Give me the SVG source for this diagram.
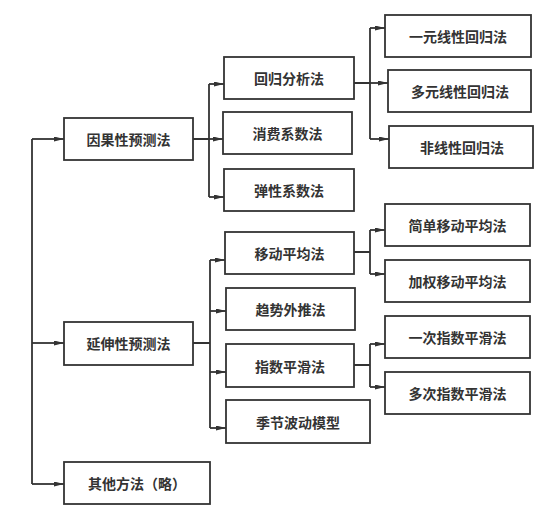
<svg xmlns="http://www.w3.org/2000/svg" width="554" height="509" viewBox="0 0 554 509">
<style>
.box{fill:#fff;stroke:#333;stroke-width:1.8}
.t{font-family:"Noto Sans CJK SC","Noto Sans CJK TC",sans-serif;font-size:14px;font-weight:bold;fill:#333;text-anchor:middle;dominant-baseline:central}
.c{fill:none;stroke:#333;stroke-width:1.8}
.a{fill:none;stroke:#333;stroke-width:1.8;marker-end:url(#ah)}
</style>
<defs>
<marker id="ah" markerUnits="userSpaceOnUse" markerWidth="10" markerHeight="5" viewBox="0 0 10 10" refX="10" refY="5" orient="auto" preserveAspectRatio="none">
<path d="M0,0 L10,5 L0,10 z" fill="#333"/>
</marker>
</defs>
<rect width="554" height="509" fill="#fff"/>
<g id="connectors">
<path class="c" d="M32,139 V484"/>
<path class="a" d="M32,139 H64"/>
<path class="a" d="M32,343 H64"/>
<path class="a" d="M32,484 H64"/>
<path class="c" d="M193,139 H209 M209,84 V197"/>
<path class="a" d="M209,84 H224"/>
<path class="a" d="M209,139 H223"/>
<path class="a" d="M209,197 H224"/>
<path class="c" d="M354,83 H370 M370,28 V139"/>
<path class="a" d="M370,28 H385"/>
<path class="a" d="M370,83 H388"/>
<path class="a" d="M370,139 H389"/>
<path class="c" d="M193,343 H210 M210,260 V428"/>
<path class="a" d="M210,260 H225"/>
<path class="a" d="M210,311 H226"/>
<path class="a" d="M210,372 H226"/>
<path class="a" d="M210,428 H226"/>
<path class="c" d="M354,252 H370 M370,230 V274"/>
<path class="a" d="M370,230 H385"/>
<path class="a" d="M370,274 H385"/>
<path class="c" d="M354,365 H370 M370,344 V387"/>
<path class="a" d="M370,344 H385"/>
<path class="a" d="M370,387 H385"/>
</g>
<g id="n1"><rect class="box" x="64" y="118" width="129" height="42"/><text class="t" x="128.5" y="139">因果性预测法</text></g>
<g id="n2"><rect class="box" x="64" y="322" width="129" height="43"/><text class="t" x="128.5" y="343">延伸性预测法</text></g>
<g id="n3"><rect class="box" x="64" y="462" width="146" height="42"/><text class="t" x="137" y="483">其他方法（略）</text></g>
<g id="n4"><rect class="box" x="224" y="57" width="130" height="42"/><text class="t" x="289" y="78">回归分析法</text></g>
<g id="n5"><rect class="box" x="223" y="112" width="129" height="42"/><text class="t" x="287.5" y="133">消费系数法</text></g>
<g id="n6"><rect class="box" x="224" y="169" width="130" height="42"/><text class="t" x="289" y="190">弹性系数法</text></g>
<g id="n7"><rect class="box" x="385" y="15" width="146" height="42"/><text class="t" x="458" y="36">一元线性回归法</text></g>
<g id="n8"><rect class="box" x="388" y="70" width="143" height="42"/><text class="t" x="460" y="91">多元线性回归法</text></g>
<g id="n9"><rect class="box" x="389" y="126" width="144" height="42"/><text class="t" x="462" y="147">非线性回归法</text></g>
<g id="n10"><rect class="box" x="225" y="232" width="129" height="42"/><text class="t" x="289.5" y="253">移动平均法</text></g>
<g id="n11"><rect class="box" x="226" y="288" width="129" height="42"/><text class="t" x="290.5" y="309">趋势外推法</text></g>
<g id="n12"><rect class="box" x="226" y="344" width="128" height="43"/><text class="t" x="290" y="365.5">指数平滑法</text></g>
<g id="n13"><rect class="box" x="226" y="400" width="144" height="43"/><text class="t" x="298" y="421.5">季节波动模型</text></g>
<g id="n14"><rect class="box" x="385" y="204" width="145" height="42"/><text class="t" x="457.5" y="225">简单移动平均法</text></g>
<g id="n15"><rect class="box" x="385" y="260" width="145" height="42"/><text class="t" x="457.5" y="281">加权移动平均法</text></g>
<g id="n16"><rect class="box" x="385" y="316" width="145" height="42"/><text class="t" x="457.5" y="337">一次指数平滑法</text></g>
<g id="n17"><rect class="box" x="385" y="372" width="145" height="42"/><text class="t" x="457.5" y="393">多次指数平滑法</text></g>
</svg>
